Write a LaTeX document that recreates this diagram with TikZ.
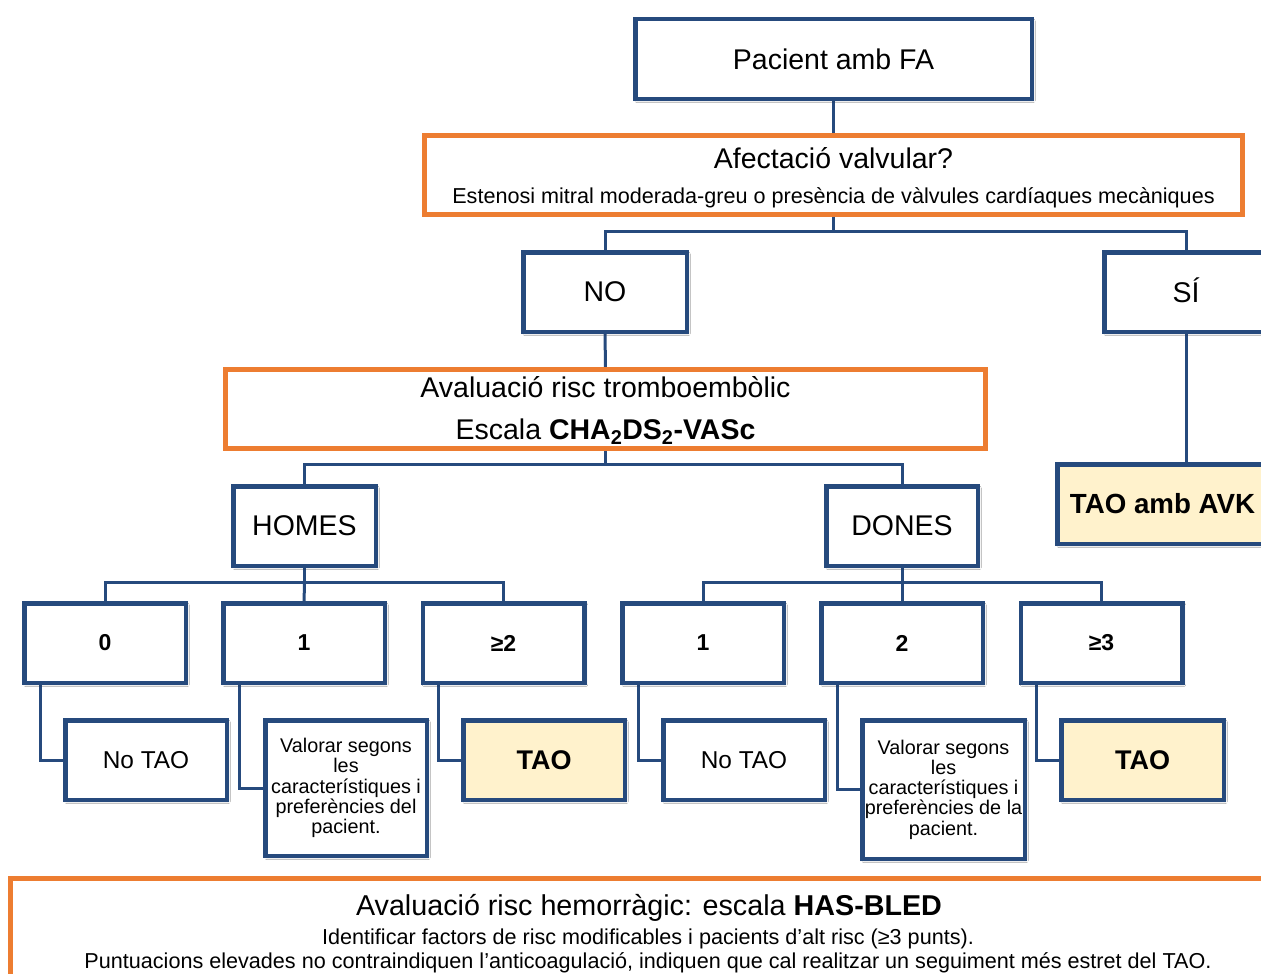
\documentclass[tikz,border=0pt]{standalone}
\usepackage{fontspec}
\setmainfont{Liberation Sans}
\usetikzlibrary{shadows.blur,backgrounds}
\definecolor{dblue}{RGB}{38,74,125}
\definecolor{orng}{RGB}{237,125,49}
\definecolor{cream}{RGB}{255,242,204}
\tikzset{
  shd/.style={blur shadow={shadow xshift=1.5pt,shadow yshift=-1.8pt,shadow blur radius=2pt,shadow opacity=30}},
  bluebox/.style={draw=dblue,line width=4.5pt,fill=white,inner sep=0pt,outer sep=0pt,align=center,minimum height=79.5pt,shd},
  creambox/.style={bluebox,fill=cream},
  orangebox/.style={draw=orng,line width=5pt,fill=white,inner sep=0pt,outer sep=0pt},
  conn/.style={draw=dblue,line width=3pt},
  big/.style={font=\fontsize{28.5}{34}\selectfont},
  mid/.style={font=\fontsize{24.4}{29}\selectfont},
  num/.style={font=\bfseries\fontsize{23}{28}\selectfont},
  tao/.style={font=\bfseries\fontsize{27}{32}\selectfont},
  small/.style={font=\fontsize{19.8}{20.3}\selectfont},
  foot/.style={font=\fontsize{21.6}{26}\selectfont,anchor=base},
}
\begin{document}
\begin{tikzpicture}[x=1pt,y=-1pt]
\clip (0,0) rectangle (1261,974);
% top
\node[bluebox,big,minimum width=396.5pt] (pac) at (833.5,59) {Pacient amb FA};
\node[orangebox,minimum width=818pt,minimum height=79pt] (afect) at (833.5,175) {};
\node[big,anchor=base] (afectT) at (833.5,168) {Afectació valvular?};
\node[font=\fontsize{21.6}{26}\selectfont,anchor=base] (afectS) at (833.5,203) {Estenosi mitral moderada-greu o presència de vàlvules cardíaques mecàniques};
\node[bluebox,big,minimum width=163.5pt] (no) at (605,292) {NO};
\node[bluebox,big,minimum width=163.5pt,text height=20.4pt,text depth=0pt] (si) at (1186,292) {SÍ};
\node[creambox,minimum width=210.5pt] (avk) at (1162.5,504) {};
\node[font=\bfseries\fontsize{27.7}{32}\selectfont] (avkT) at (1162.5,504) {TAO amb AVK};
% avaluacio
\node[orangebox,minimum width=760pt,minimum height=79pt] (aval) at (605.5,409) {};
\node[big,anchor=base] (avalT) at (605.5,397) {Avaluació risc tromboembòlic};
\node[big,anchor=base] (avalS) at (605.5,439) {Escala \textbf{CHA\textsubscript{2}DS\textsubscript{2}-VASc}};
\node[bluebox,big,minimum width=142.5pt] (homes) at (304.5,526) {HOMES};
\node[bluebox,big,minimum width=151.5pt] (dones) at (902,526) {DONES};
% score row
\node[bluebox,num,minimum width=161.5pt] (r0) at (105,643) {0};
\node[bluebox,num,minimum width=161.5pt] (r1) at (304,643) {1};
\node[bluebox,num,minimum width=161.5pt] (r2) at (503.5,643) {≥2};
\node[bluebox,num,minimum width=161.5pt] (d1) at (703,643) {1};
\node[bluebox,num,minimum width=161.5pt] (d2) at (902,643) {2};
\node[bluebox,num,minimum width=161.5pt] (d3) at (1101.5,643) {≥3};
% results
\node[bluebox,mid,minimum width=161.5pt] (nt1) at (146,760) {No TAO};
\node[bluebox,small,minimum width=161.5pt,minimum height=135.5pt] (val1) at (346,788) {Valorar segons\\les\\característiques i\\preferències del\\pacient.};
\node[creambox,tao,minimum width=161.5pt] (tao1) at (544,760) {TAO};
\node[bluebox,mid,minimum width=161.5pt] (nt2) at (744,760) {No TAO};
\node[bluebox,small,minimum width=162.5pt,minimum height=138.5pt] (val2) at (943.5,789.5) {Valorar segons\\les\\característiques i\\preferències de la\\pacient.};
\node[creambox,tao,minimum width=162.5pt] (tao2) at (1142.5,760) {TAO};
% bottom
\node[orangebox,minimum width=1277pt,minimum height=140pt,anchor=north] (bleed) at (649,878.5) {};
\node[font=\fontsize{28.7}{34}\selectfont,anchor=base] (bleedT) at (649,915) {Avaluació risc hemorràgic: escala \textbf{HAS-BLED}};
\node[foot] (bleed1) at (648,944) {Identificar factors de risc modificables i pacients d’alt risc (≥3 punts).};
\node[foot] (bleed2) at (648,968) {Puntuacions elevades no contraindiquen l’anticoagulació, indiquen que cal realitzar un seguiment més estret del TAO.};
% connectors
\begin{scope}[on background layer]
\fill[white] (0,0) rectangle (1261,974);
\draw[conn] (pac.south) -- (afect.north);
\draw[conn] (afect.south) -- ++(0,17) coordinate (b1);
\draw[conn] (no.north) |- (b1) -| (si.north);
\draw[conn] (no.south) -- (aval.north);
\draw[conn] (si.south) -- (avk.north -| si.south);
\draw[conn] (aval.south) -- ++(0,16) coordinate (b2);
\draw[conn] (homes.north) |- (b2) -| (dones.north);
\draw[conn] (homes.south) -- ++(0,17) coordinate (b3);
\draw[conn] (r1.north) -- (b3);
\draw[conn] (r0.north) |- (b3) -| (r2.north);
\draw[conn] (dones.south) -- ++(0,17) coordinate (b4);
\draw[conn] (d2.north) -- (b4);
\draw[conn] (d1.north) |- (b4) -| (d3.north);
\draw[conn] ([xshift=16pt]r0.south west) |- (nt1.west);
\draw[conn] ([xshift=16pt]r1.south west) |- (val1.west);
\draw[conn] ([xshift=16pt]r2.south west) |- (tao1.west);
\draw[conn] ([xshift=16pt]d1.south west) |- (nt2.west);
\draw[conn] ([xshift=16pt]d2.south west) |- (val2.west);
\draw[conn] ([xshift=16pt]d3.south west) |- (tao2.west);
\end{scope}
\end{tikzpicture}
\end{document}
